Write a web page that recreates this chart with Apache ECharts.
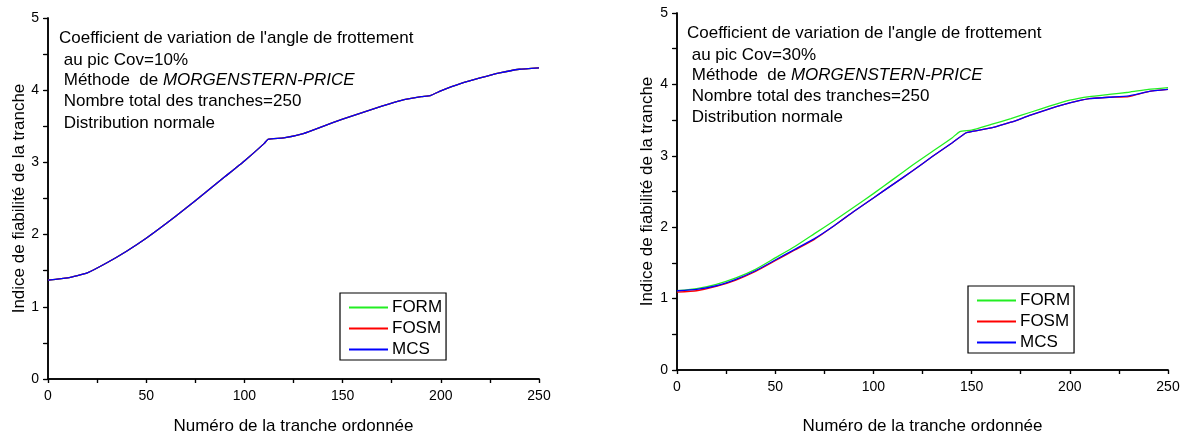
<!DOCTYPE html>
<html lang="fr">
<head>
  <meta charset="utf-8">
  <title>Indice de fiabilité</title>
  <script src="https://cdn.jsdelivr.net/npm/echarts@6/dist/echarts.min.js"></script>
  <style>
    html, body { margin: 0; padding: 0; background: #fff; }
    #main { width: 1184px; height: 440px; }
  </style>
</head>
<body>
  <div id="main"></div>
  <script>
    // Cov = 10% (graphe de gauche) : les trois méthodes se superposent
    var x10 = [0, 10, 20, 30, 40, 50, 60, 70, 80, 90, 100, 110, 112, 120, 130, 140, 150, 160, 170, 180, 190, 195, 200, 210, 220, 230, 240, 250];
    var form10 = [1.37, 1.40, 1.47, 1.61, 1.77, 1.95, 2.15, 2.36, 2.58, 2.80, 3.02, 3.26, 3.32, 3.34, 3.40, 3.50, 3.60, 3.69, 3.78, 3.86, 3.91, 3.93, 3.99, 4.09, 4.17, 4.24, 4.29, 4.31];
    var fosm10 = [1.37, 1.40, 1.47, 1.61, 1.77, 1.95, 2.15, 2.36, 2.58, 2.80, 3.02, 3.26, 3.32, 3.34, 3.40, 3.50, 3.60, 3.69, 3.78, 3.86, 3.91, 3.93, 3.99, 4.09, 4.17, 4.24, 4.29, 4.31];
    var mcs10 = [1.37, 1.40, 1.47, 1.61, 1.77, 1.95, 2.15, 2.36, 2.58, 2.80, 3.02, 3.26, 3.32, 3.34, 3.40, 3.50, 3.60, 3.69, 3.78, 3.86, 3.91, 3.93, 3.99, 4.09, 4.17, 4.24, 4.29, 4.31];

    // Cov = 30% (graphe de droite)
    var x30form = [0, 10, 20, 30, 40, 50, 60, 70, 80, 90, 100, 110, 120, 130, 140, 144, 150, 160, 170, 180, 190, 200, 210, 220, 230, 240, 250];
    var form30 = [1.11, 1.14, 1.20, 1.29, 1.41, 1.57, 1.73, 1.91, 2.09, 2.28, 2.47, 2.67, 2.87, 3.06, 3.25, 3.34, 3.36, 3.44, 3.52, 3.61, 3.70, 3.78, 3.83, 3.86, 3.89, 3.93, 3.955];
    var x30 = [0, 10, 20, 30, 40, 50, 60, 70, 80, 90, 100, 110, 120, 130, 140, 147, 150, 160, 170, 180, 190, 200, 210, 220, 230, 240, 250];
    var fosm30 = [1.09, 1.11, 1.17, 1.26, 1.38, 1.53, 1.68, 1.83, 2.02, 2.22, 2.41, 2.60, 2.79, 2.99, 3.18, 3.32, 3.34, 3.39, 3.47, 3.57, 3.66, 3.74, 3.80, 3.82, 3.83, 3.90, 3.93];
    var mcs30 = [1.11, 1.13, 1.18, 1.27, 1.39, 1.54, 1.69, 1.84, 2.02, 2.22, 2.41, 2.60, 2.79, 2.99, 3.18, 3.32, 3.34, 3.39, 3.47, 3.57, 3.66, 3.74, 3.80, 3.82, 3.84, 3.90, 3.93];

    var methodes = ['FORM', 'FOSM', 'MCS'];
    var couleurs = ['#22ee22', '#ff0000', '#0000ff'];

    var notes10 = ['Coefficient de variation de l\'angle de frottement', ' au pic Cov=10%', ' Méthode  de {i|MORGENSTERN-PRICE}', ' Nombre total des tranches=250', ' Distribution normale'];
    var notes30 = ['Coefficient de variation de l\'angle de frottement', ' au pic Cov=30%', ' Méthode  de {i|MORGENSTERN-PRICE}', ' Nombre total des tranches=250', ' Distribution normale'];

    function paires(xs, ys) {
      return xs.map(function(x, i) { return [x, ys[i]]; });
    }

    var police = 'Liberation Sans, Arial, sans-serif';
    var ligneAxe = { lineStyle: { color: '#000', width: 1.5 } };

    // axes du bas/gauche (graduations vers l'extérieur) et du haut/droite (vers l'intérieur)
    function axesX(g, gap) {
      return [{
        gridIndex: g, type: 'value', min: 0, max: 250, interval: 25,
        name: 'Numéro de la tranche ordonnée', nameLocation: 'middle', nameGap: gap,
        nameTextStyle: { fontSize: 17, color: '#000', fontFamily: police },
        axisLine: ligneAxe,
        axisTick: { length: 4, lineStyle: { color: '#000', width: 1.2 } },
        axisLabel: {
          fontSize: 14, color: '#000', fontFamily: police, margin: 10,
          formatter: function(v) { return v % 50 === 0 ? v : ''; }
        },
        splitLine: { show: false }
      }, {
        gridIndex: g, type: 'value', min: 0, max: 250, interval: 25, position: 'top',
        axisLine: ligneAxe,
        axisTick: { inside: true, length: 4, lineStyle: { color: '#000', width: 1.2 } },
        axisLabel: { show: false },
        splitLine: { show: false }
      }];
    }

    function axesY(g, gap) {
      return [{
        gridIndex: g, type: 'value', min: 0, max: 5, interval: 0.5,
        name: 'Indice de fiabilité de la tranche', nameLocation: 'middle', nameGap: gap,
        nameTextStyle: { fontSize: 17, color: '#000', fontFamily: police },
        axisLine: ligneAxe,
        axisTick: { length: 5, lineStyle: { color: '#000', width: 1.2 } },
        axisLabel: {
          fontSize: 14, color: '#000', fontFamily: police, margin: 9,
          formatter: function(v) { return v % 1 === 0 ? v : ''; }
        },
        splitLine: { show: false }
      }, {
        gridIndex: g, type: 'value', min: 0, max: 5, interval: 0.5, position: 'right',
        axisLine: ligneAxe,
        axisTick: { inside: true, length: 4, lineStyle: { color: '#000', width: 1.2 } },
        axisLabel: { show: false },
        splitLine: { show: false }
      }];
    }

    function courbe(nom, g, data, idx) {
      return {
        name: nom, type: 'line', xAxisIndex: g * 2, yAxisIndex: g * 2,
        data: data, showSymbol: false, smooth: 0.15, animation: false,
        lineStyle: { width: 1.3, color: couleurs[idx] }, itemStyle: { color: couleurs[idx] }
      };
    }

    function legende(left, top) {
      return {
        data: methodes, orient: 'vertical', left: left, top: top,
        padding: [6, 4, 2, 9], itemGap: 4, itemWidth: 39, itemHeight: 2, icon: 'rect',
        borderColor: '#000', borderWidth: 1.2, borderRadius: 0,
        textStyle: { fontSize: 17, color: '#000', fontFamily: police, padding: [0, 0, 0, -1] }
      };
    }

    function notes(lignes, xs, ys) {
      return lignes.map(function(t, i) {
        return {
          type: 'text', left: xs[i], top: ys[i] - 8,
          style: {
            text: t, fontSize: 17, fill: '#000', fontFamily: police,
            rich: { i: { fontStyle: 'italic', fontSize: 17, fontFamily: police, fill: '#000' } }
          }
        };
      });
    }

    var myChart = echarts.init(document.getElementById('main'));

    var option = {
      animation: false,
      grid: [
        { left: 48, top: 18, width: 491, height: 366 },
        { left: 677, top: 13, width: 491, height: 364 }
      ],
      xAxis: axesX(0, 39).concat(axesX(1, 48)),
      yAxis: axesY(0, 20).concat(axesY(1, 21)),
      legend: [legende(340, 293), legende(968, 286)],
      series: [
        courbe('FORM', 0, paires(x10, form10), 0),
        courbe('FOSM', 0, paires(x10, fosm10), 1),
        courbe('MCS', 0, paires(x10, mcs10), 2),
        courbe('FORM', 1, paires(x30form, form30), 0),
        courbe('FOSM', 1, paires(x30, fosm30), 1),
        courbe('MCS', 1, paires(x30, mcs30), 2)
      ],
      graphic: notes(notes10, [59, 59, 59, 59, 59], [38, 60, 80, 101, 123])
        .concat(notes(notes30, [687, 687, 687, 687, 687], [33, 55, 75, 96, 117]))
    };

    myChart.setOption(option);
  </script>
</body>
</html>
